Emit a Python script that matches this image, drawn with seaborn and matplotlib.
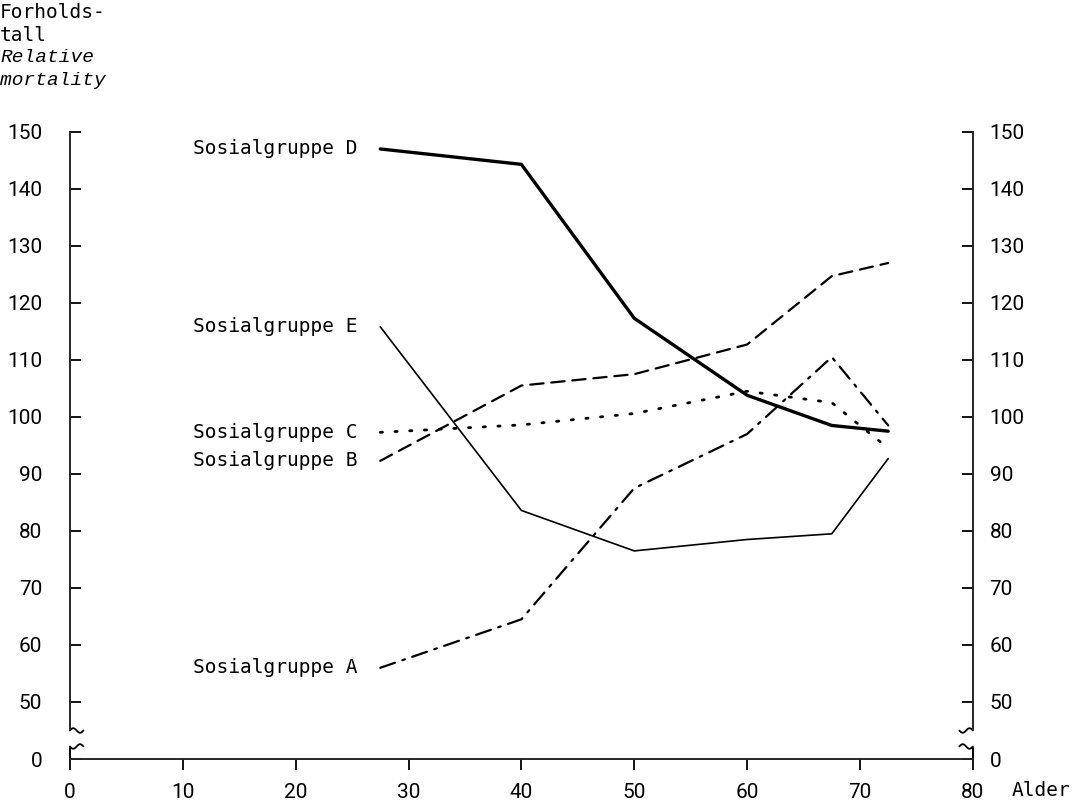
import numpy as np
import pandas as pd
import matplotlib
matplotlib.use("Agg")
import matplotlib.pyplot as plt
import matplotlib.transforms as mtrans
import seaborn as sns

# age (midpoint of age group) and relative mortality per social group
ages = [27.5, 40, 50, 60, 67.5, 72.5]
group_a = [56.0, 64.5, 87.5, 97.0, 110.5, 98.5]
group_b = [92.3, 105.5, 107.5, 112.7, 124.7, 127.0]
group_c = [97.3, 98.6, 100.6, 104.5, 102.5, 94.5]
group_d = [147.0, 144.3, 117.3, 103.8, 98.5, 97.5]
group_e = [115.8, 83.6, 76.5, 78.5, 79.5, 92.7]

group_names = ["Sosialgruppe A", "Sosialgruppe B", "Sosialgruppe C",
               "Sosialgruppe D", "Sosialgruppe E"]
x_ticks = [0, 10, 20, 30, 40, 50, 60, 70, 80]
y_ticks = [50, 60, 70, 80, 90, 100, 110, 120, 130, 140, 150]
ZERO_POS = 40  # where the "0" sits below the axis break

sns.set_style("ticks")
plt.rcParams['font.family'] = ['Roboto', 'DejaVu Sans']
plt.rcParams['text.color'] = 'black'
plt.rcParams['xtick.color'] = 'black'
plt.rcParams['ytick.color'] = 'black'
MONO = ['DejaVu Sans Mono']

styles = {
    "Sosialgruppe A": dict(lw=1.6, dashes=(7, 3.5, 1.2, 3.5)),
    "Sosialgruppe B": dict(lw=1.6, dashes=(6, 3.5)),
    "Sosialgruppe C": dict(lw=2.0, dashes=(0.8, 4.5)),
    "Sosialgruppe D": dict(lw=2.4, dashes=()),
    "Sosialgruppe E": dict(lw=1.2, dashes=()),
}

values = [group_a, group_b, group_c, group_d, group_e]
df = pd.DataFrame({
    "alder": ages * len(group_names),
    "verdi": [v for vals in values for v in vals],
    "gruppe": [g for g in group_names for _ in ages],
})

fig = plt.figure(figsize=(10.75, 8.02), dpi=100)
ax = fig.add_axes([0.065, 0.0536, 0.84, 0.782])

for name in group_names:
    sub = df[df["gruppe"] == name]
    st = styles[name]
    sns.lineplot(data=sub, x="alder", y="verdi", ax=ax, color="black",
                 linewidth=st["lw"], sort=False, legend=False)
    line = ax.lines[-1]
    if st["dashes"]:
        line.set_dashes(st["dashes"])
        line.set_dash_capstyle("round")
    # group label left of the line start
    ax.text(sub["alder"].iloc[0] - 2.0, sub["verdi"].iloc[0], name,
            ha="right", va="center", fontsize=14, family=MONO)

ax.set_xlim(0, 80)
ax.set_ylim(ZERO_POS, 150)
ax.set_xticks(x_ticks)
ax.set_yticks([ZERO_POS] + y_ticks)
ax.set_yticklabels(["0"] + [str(t) for t in y_ticks])
ax.set_xlabel("")
ax.set_ylabel("")

ax.tick_params(axis="x", direction="out", length=8, width=1.3, pad=9,
               labelsize=15)
ax.tick_params(axis="y", direction="in", length=8, width=1.3, pad=20,
               left=True, right=True, labelleft=True, labelright=True,
               labelsize=15)
# right labels sit closer to their spine
shift = mtrans.ScaledTranslation(-8 / 72, 0, fig.dpi_scale_trans)
for t in ax.yaxis.get_major_ticks():
    t.label2.set_transform(t.label2.get_transform() + shift)

for s in ["left", "right", "bottom"]:
    ax.spines[s].set_linewidth(1.4)
ax.spines["top"].set_visible(False)
ax.spines["left"].set_bounds(45.2, 150)
ax.spines["right"].set_bounds(45.2, 150)

# axis break marks
wave_x = np.linspace(0, 1, 30)
wave = 0.4 * np.sin(wave_x * 2 * np.pi)
for xs, sign in [(0, 1), (80, -1)]:
    ax.plot([xs, xs], [ZERO_POS, 42.0], color="black", lw=1.4, clip_on=False)
    for y0 in (45.0, 42.2):
        ax.plot(xs + sign * wave_x * 1.2, y0 + wave * (1 if y0 > 43 else -1),
                color="black", lw=1.3, clip_on=False)

ax.text(86.0, -0.05, "Alder", transform=ax.get_xaxis_transform(),
        ha="center", va="center", fontsize=14, family=MONO)

header = [("Forholds-", "normal", MONO), ("tall", "normal", MONO),
          ("Relative", "italic", ['Liberation Mono']),
          ("mortality", "italic", ['Liberation Mono'])]
for i, (txt, style, fam) in enumerate(header):
    fig.text(0.0, 1 - (13 + 22.5 * i) / 802, txt, ha="left", va="center",
             fontsize=14, family=fam, style=style)

fig.savefig("out.png", dpi=100)
